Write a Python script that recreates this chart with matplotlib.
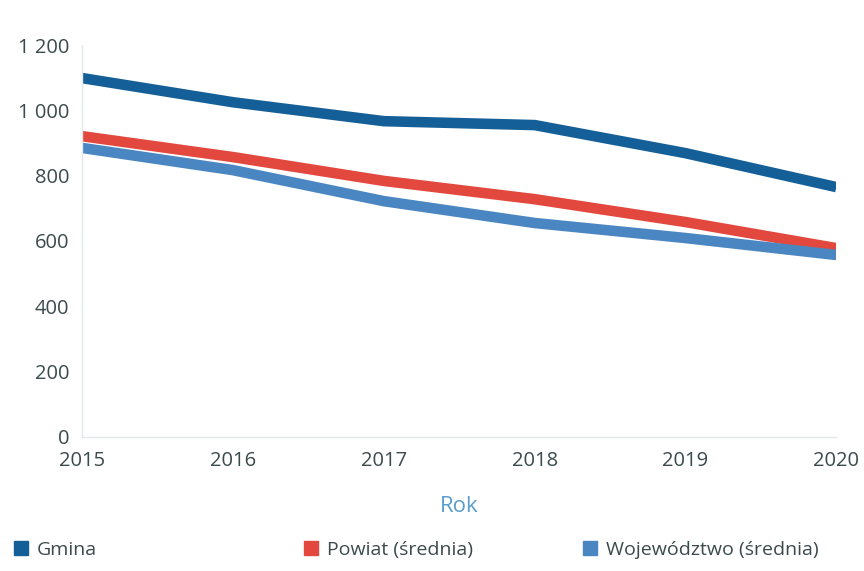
import matplotlib.pyplot as plt
from matplotlib.lines import Line2D
from matplotlib.ticker import FuncFormatter

years = [2015, 2016, 2017, 2018, 2019, 2020]
gmina = [1099, 1025, 967, 955, 869, 765]
powiat = [921, 857, 784, 728, 658, 578]
wojewodztwo = [885, 817, 722, 655, 609, 557]

labels = ["Gmina", "Powiat (średnia)", "Województwo (średnia)"]
colors = ["#155f98", "#e2483d", "#4a86c2"]
text_col = "#3b4a4c"

plt.rcParams['font.family'] = ['Open Sans', 'DejaVu Sans']

fig = plt.figure(figsize=(8.64, 5.71), dpi=100)
ax = fig.add_axes([0.095, 0.235, 0.873, 0.686])

for vals, c in zip([gmina, powiat, wojewodztwo], colors):
    ax.plot(years, vals, color=c, linewidth=7.6, solid_capstyle='butt', solid_joinstyle='round')

ax.set_xlim(2015, 2020)
ax.set_ylim(0, 1200)
ax.set_yticks(range(0, 1201, 200))
ax.set_xticks(years)
ax.yaxis.set_major_formatter(FuncFormatter(lambda v, p: f"{int(v):,}".replace(",", " ")))

for s in ["top", "right"]:
    ax.spines[s].set_visible(False)
for s in ["left", "bottom"]:
    ax.spines[s].set_color("#e3e8ea")
    ax.spines[s].set_linewidth(1)

ax.tick_params(axis='both', length=0, labelsize=14.5, colors=text_col)
ax.tick_params(axis='y', pad=9)
ax.tick_params(axis='x', pad=10)

ax.set_xlabel("Rok", fontsize=16, color="#5b9dcc", labelpad=18)

# legend entries placed individually along the bottom
legend_x = [-0.006, 0.33, 0.653]
for lab, c, x in zip(labels, colors, legend_x):
    h = Line2D([], [], marker='s', linestyle='none', markersize=10, color=c)
    fig.legend([h], [lab], loc='lower left', bbox_to_anchor=(x, -0.004), frameon=False,
               fontsize=14, labelcolor=text_col, handletextpad=0.2, handlelength=1.2,
               borderaxespad=0.35)

fig.savefig("out.png", dpi=100)
